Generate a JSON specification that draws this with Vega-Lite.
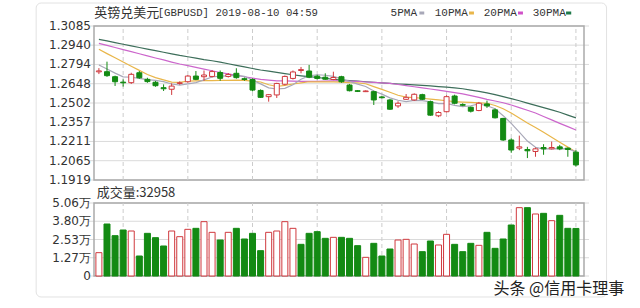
{
"$schema": "https://vega.github.io/schema/vega-lite/v6.json",
"width": 500, "height": 250,
"autosize": {"type": "none"},
"padding": {"left": 89, "top": 26, "right": 51, "bottom": 32},
"background": "white",
"config": {"view": {"stroke": null}, "font": "DejaVu Sans"},
"data": {"values": [
{"i":0,"d":"05-20","o":1.2738,"h":1.2766,"l":1.2721,"c":1.2745,"v":16170,"vup":1,"m5":1.2790,"m10":1.2909,"m20":1.2954,"m30":1.2984},
{"i":1,"d":"05-21","o":1.2739,"h":1.2815,"l":1.2700,"c":1.2709,"v":36040,"vup":0,"m5":1.2760,"m10":1.2876,"m20":1.2938,"m30":1.2972},
{"i":2,"d":"05-22","o":1.2701,"h":1.2709,"l":1.2631,"c":1.2663,"v":27960,"vup":0,"m5":1.2728,"m10":1.2844,"m20":1.2922,"m30":1.2959},
{"i":3,"d":"05-23","o":1.2660,"h":1.2681,"l":1.2626,"c":1.2655,"v":31890,"vup":0,"m5":1.2700,"m10":1.2812,"m20":1.2906,"m30":1.2947},
{"i":4,"d":"05-24","o":1.2656,"h":1.2731,"l":1.2646,"c":1.2719,"v":31190,"vup":1,"m5":1.2697,"m10":1.2780,"m20":1.2891,"m30":1.2935},
{"i":5,"d":"05-27","o":1.2731,"h":1.2744,"l":1.2685,"c":1.2693,"v":13860,"vup":0,"m5":1.2688,"m10":1.2749,"m20":1.2875,"m30":1.2922},
{"i":6,"d":"05-28","o":1.2681,"h":1.2693,"l":1.2655,"c":1.2664,"v":29570,"vup":0,"m5":1.2679,"m10":1.2718,"m20":1.2859,"m30":1.2910},
{"i":7,"d":"05-29","o":1.2659,"h":1.2668,"l":1.2625,"c":1.2633,"v":26570,"vup":0,"m5":1.2673,"m10":1.2694,"m20":1.2843,"m30":1.2898},
{"i":8,"d":"05-30","o":1.2618,"h":1.2643,"l":1.2593,"c":1.2610,"v":20800,"vup":0,"m5":1.2664,"m10":1.2677,"m20":1.2828,"m30":1.2886},
{"i":9,"d":"05-31","o":1.2606,"h":1.2651,"l":1.2563,"c":1.2630,"v":31190,"vup":1,"m5":1.2646,"m10":1.2660,"m20":1.2812,"m30":1.2874},
{"i":10,"d":"06-03","o":1.2650,"h":1.2666,"l":1.2640,"c":1.2655,"v":27260,"vup":1,"m5":1.2638,"m10":1.2658,"m20":1.2797,"m30":1.2862},
{"i":11,"d":"06-04","o":1.2663,"h":1.2714,"l":1.2655,"c":1.2706,"v":32350,"vup":1,"m5":1.2647,"m10":1.2668,"m20":1.2785,"m30":1.2852},
{"i":12,"d":"06-05","o":1.2706,"h":1.2744,"l":1.2675,"c":1.2681,"v":33040,"vup":0,"m5":1.2656,"m10":1.2670,"m20":1.2772,"m30":1.2842},
{"i":13,"d":"06-06","o":1.2701,"h":1.2748,"l":1.2670,"c":1.2714,"v":37660,"vup":1,"m5":1.2677,"m10":1.2671,"m20":1.2759,"m30":1.2831},
{"i":14,"d":"06-07","o":1.2703,"h":1.2752,"l":1.2695,"c":1.2740,"v":30270,"vup":1,"m5":1.2699,"m10":1.2672,"m20":1.2746,"m30":1.2822},
{"i":15,"d":"06-10","o":1.2733,"h":1.2748,"l":1.2670,"c":1.2689,"v":24950,"vup":0,"m5":1.2706,"m10":1.2673,"m20":1.2733,"m30":1.2811},
{"i":16,"d":"06-11","o":1.2703,"h":1.2729,"l":1.2695,"c":1.2718,"v":30270,"vup":1,"m5":1.2708,"m10":1.2674,"m20":1.2722,"m30":1.2799},
{"i":17,"d":"06-12","o":1.2727,"h":1.2765,"l":1.2686,"c":1.2694,"v":33040,"vup":0,"m5":1.2711,"m10":1.2675,"m20":1.2712,"m30":1.2787},
{"i":18,"d":"06-13","o":1.2686,"h":1.2695,"l":1.2670,"c":1.2680,"v":25650,"vup":0,"m5":1.2704,"m10":1.2674,"m20":1.2701,"m30":1.2775},
{"i":19,"d":"06-14","o":1.2680,"h":1.2688,"l":1.2590,"c":1.2600,"v":29570,"vup":0,"m5":1.2676,"m10":1.2668,"m20":1.2691,"m30":1.2763},
{"i":20,"d":"06-17","o":1.2597,"h":1.2605,"l":1.2540,"c":1.2545,"v":17560,"vup":0,"m5":1.2647,"m10":1.2661,"m20":1.2681,"m30":1.2752},
{"i":21,"d":"06-18","o":1.2550,"h":1.2570,"l":1.2512,"c":1.2565,"v":30270,"vup":1,"m5":1.2617,"m10":1.2640,"m20":1.2675,"m30":1.2743},
{"i":22,"d":"06-19","o":1.2563,"h":1.2655,"l":1.2540,"c":1.2650,"v":31190,"vup":1,"m5":1.2608,"m10":1.2627,"m20":1.2670,"m30":1.2734},
{"i":23,"d":"06-20","o":1.2644,"h":1.2710,"l":1.2635,"c":1.2703,"v":37660,"vup":1,"m5":1.2613,"m10":1.2636,"m20":1.2669,"m30":1.2725},
{"i":24,"d":"06-21","o":1.2688,"h":1.2748,"l":1.2680,"c":1.2737,"v":33040,"vup":1,"m5":1.2640,"m10":1.2646,"m20":1.2667,"m30":1.2716},
{"i":25,"d":"06-24","o":1.2748,"h":1.2775,"l":1.2727,"c":1.2755,"v":21950,"vup":0,"m5":1.2682,"m10":1.2655,"m20":1.2666,"m30":1.2708},
{"i":26,"d":"06-25","o":1.2744,"h":1.2790,"l":1.2690,"c":1.2697,"v":29570,"vup":0,"m5":1.2708,"m10":1.2663,"m20":1.2665,"m30":1.2701},
{"i":27,"d":"06-26","o":1.2705,"h":1.2716,"l":1.2680,"c":1.2688,"v":30730,"vup":0,"m5":1.2716,"m10":1.2662,"m20":1.2665,"m30":1.2695},
{"i":28,"d":"06-27","o":1.2697,"h":1.2727,"l":1.2678,"c":1.2682,"v":26110,"vup":0,"m5":1.2712,"m10":1.2662,"m20":1.2667,"m30":1.2688},
{"i":29,"d":"06-28","o":1.2680,"h":1.2739,"l":1.2675,"c":1.2695,"v":26800,"vup":1,"m5":1.2703,"m10":1.2662,"m20":1.2670,"m30":1.2682},
{"i":30,"d":"07-01","o":1.2701,"h":1.2708,"l":1.2655,"c":1.2663,"v":26800,"vup":0,"m5":1.2685,"m10":1.2660,"m20":1.2671,"m30":1.2675},
{"i":31,"d":"07-02","o":1.2638,"h":1.2646,"l":1.2590,"c":1.2595,"v":26110,"vup":0,"m5":1.2665,"m10":1.2656,"m20":1.2668,"m30":1.2671},
{"i":32,"d":"07-03","o":1.2595,"h":1.2600,"l":1.2585,"c":1.2590,"v":21030,"vup":0,"m5":1.2645,"m10":1.2654,"m20":1.2665,"m30":1.2667},
{"i":33,"d":"07-04","o":1.2588,"h":1.2598,"l":1.2585,"c":1.2593,"v":12940,"vup":1,"m5":1.2627,"m10":1.2648,"m20":1.2661,"m30":1.2663},
{"i":34,"d":"07-05","o":1.2588,"h":1.2595,"l":1.2487,"c":1.2525,"v":22640,"vup":0,"m5":1.2593,"m10":1.2626,"m20":1.2658,"m30":1.2659},
{"i":35,"d":"07-08","o":1.2548,"h":1.2555,"l":1.2535,"c":1.2542,"v":13860,"vup":0,"m5":1.2569,"m10":1.2605,"m20":1.2654,"m30":1.2654},
{"i":36,"d":"07-09","o":1.2525,"h":1.2532,"l":1.2450,"c":1.2455,"v":18710,"vup":0,"m5":1.2541,"m10":1.2583,"m20":1.2650,"m30":1.2650},
{"i":37,"d":"07-10","o":1.2480,"h":1.2515,"l":1.2465,"c":1.2500,"v":24950,"vup":1,"m5":1.2523,"m10":1.2561,"m20":1.2642,"m30":1.2646},
{"i":38,"d":"07-11","o":1.2530,"h":1.2570,"l":1.2525,"c":1.2545,"v":25410,"vup":1,"m5":1.2513,"m10":1.2546,"m20":1.2634,"m30":1.2643},
{"i":39,"d":"07-12","o":1.2525,"h":1.2575,"l":1.2518,"c":1.2568,"v":22180,"vup":1,"m5":1.2522,"m10":1.2542,"m20":1.2625,"m30":1.2639},
{"i":40,"d":"07-15","o":1.2565,"h":1.2572,"l":1.2525,"c":1.2530,"v":16870,"vup":0,"m5":1.2520,"m10":1.2538,"m20":1.2617,"m30":1.2635},
{"i":41,"d":"07-16","o":1.2512,"h":1.2520,"l":1.2405,"c":1.2410,"v":24260,"vup":0,"m5":1.2511,"m10":1.2532,"m20":1.2608,"m30":1.2631},
{"i":42,"d":"07-17","o":1.2405,"h":1.2440,"l":1.2395,"c":1.2430,"v":21490,"vup":1,"m5":1.2497,"m10":1.2526,"m20":1.2599,"m30":1.2626},
{"i":43,"d":"07-18","o":1.2436,"h":1.2560,"l":1.2430,"c":1.2550,"v":28880,"vup":1,"m5":1.2498,"m10":1.2519,"m20":1.2590,"m30":1.2622},
{"i":44,"d":"07-19","o":1.2555,"h":1.2565,"l":1.2492,"c":1.2500,"v":21950,"vup":0,"m5":1.2484,"m10":1.2512,"m20":1.2581,"m30":1.2617},
{"i":45,"d":"07-22","o":1.2490,"h":1.2500,"l":1.2478,"c":1.2485,"v":16870,"vup":0,"m5":1.2475,"m10":1.2509,"m20":1.2571,"m30":1.2610},
{"i":46,"d":"07-23","o":1.2470,"h":1.2475,"l":1.2430,"c":1.2440,"v":22640,"vup":0,"m5":1.2481,"m10":1.2506,"m20":1.2558,"m30":1.2600},
{"i":47,"d":"07-24","o":1.2445,"h":1.2510,"l":1.2440,"c":1.2500,"v":21260,"vup":1,"m5":1.2495,"m10":1.2503,"m20":1.2545,"m30":1.2590},
{"i":48,"d":"07-25","o":1.2495,"h":1.2520,"l":1.2465,"c":1.2480,"v":30270,"vup":0,"m5":1.2481,"m10":1.2500,"m20":1.2529,"m30":1.2578},
{"i":49,"d":"07-26","o":1.2450,"h":1.2460,"l":1.2385,"c":1.2390,"v":19180,"vup":0,"m5":1.2459,"m10":1.2483,"m20":1.2517,"m30":1.2565},
{"i":50,"d":"07-29","o":1.2385,"h":1.2390,"l":1.2215,"c":1.2222,"v":25650,"vup":0,"m5":1.2406,"m10":1.2458,"m20":1.2504,"m30":1.2550},
{"i":51,"d":"07-30","o":1.2222,"h":1.2235,"l":1.2125,"c":1.2146,"v":35350,"vup":0,"m5":1.2348,"m10":1.2426,"m20":1.2487,"m30":1.2535},
{"i":52,"d":"07-31","o":1.2160,"h":1.2255,"l":1.2145,"c":1.2170,"v":47370,"vup":1,"m5":1.2282,"m10":1.2389,"m20":1.2467,"m30":1.2519},
{"i":53,"d":"08-01","o":1.2150,"h":1.2170,"l":1.2085,"c":1.2140,"v":47370,"vup":0,"m5":1.2214,"m10":1.2351,"m20":1.2447,"m30":1.2501},
{"i":54,"d":"08-02","o":1.2135,"h":1.2165,"l":1.2095,"c":1.2155,"v":42980,"vup":1,"m5":1.2167,"m10":1.2317,"m20":1.2426,"m30":1.2484},
{"i":55,"d":"08-05","o":1.2165,"h":1.2190,"l":1.2110,"c":1.2155,"v":43440,"vup":0,"m5":1.2153,"m10":1.2280,"m20":1.2400,"m30":1.2467},
{"i":56,"d":"08-06","o":1.2155,"h":1.2210,"l":1.2150,"c":1.2165,"v":38350,"vup":1,"m5":1.2157,"m10":1.2242,"m20":1.2374,"m30":1.2450},
{"i":57,"d":"08-07","o":1.2170,"h":1.2185,"l":1.2145,"c":1.2155,"v":42050,"vup":0,"m5":1.2154,"m10":1.2205,"m20":1.2348,"m30":1.2432},
{"i":58,"d":"08-08","o":1.2160,"h":1.2165,"l":1.2095,"c":1.2150,"v":33040,"vup":0,"m5":1.2156,"m10":1.2168,"m20":1.2323,"m30":1.2410},
{"i":59,"d":"08-09","o":1.2130,"h":1.2145,"l":1.2020,"c":1.2033,"v":32958,"vup":0,"m5":1.2132,"m10":1.2131,"m20":1.2298,"m30":1.2389}
]},
"layer": [
{
"layer": [
{"data": {"values": [{"t": 1.1919}, {"t": 1.2065}, {"t": 1.2211}, {"t": 1.2357}, {"t": 1.2502}, {"t": 1.2648}, {"t": 1.2794}, {"t": 1.2940}, {"t": 1.3085}]},
 "mark": {"type": "rule", "stroke": "#dadada", "strokeWidth": 1},
 "encoding": {"y": {"field": "t", "type": "quantitative", "scale": {"domain": [1.1919, 1.3085], "range": [154, 0], "nice": false, "zero": false}, "axis": null}}},
{"data": {"values": [{"t": 1.1919}, {"t": 1.2065}, {"t": 1.2211}, {"t": 1.2357}, {"t": 1.2502}, {"t": 1.2648}, {"t": 1.2794}, {"t": 1.2940}, {"t": 1.3085}]},
 "mark": {"type": "text", "align": "right", "baseline": "middle", "dx": -3, "font": "DejaVu Sans", "fontSize": 12, "fill": "#333333"},
 "encoding": {
  "x": {"datum": -0.6061, "type": "quantitative", "scale": {"domain": [-0.6061, 60], "nice": false, "zero": false}, "axis": null},
  "y": {"field": "t", "type": "quantitative", "scale": {"domain": [1.1919, 1.3085], "range": [154, 0], "nice": false, "zero": false}, "axis": null},
  "text": {"field": "t", "type": "quantitative", "format": ".4f"}}},
{"data": {"values": [{}]}, "mark": {"type": "rect", "fillOpacity": 0, "stroke": "#aaaaaa", "strokeWidth": 1.5},
 "encoding": {
  "x": {"datum": -0.6061, "type": "quantitative", "scale": {"domain": [-0.6061, 60], "nice": false, "zero": false}, "axis": null},
  "x2": {"datum": 60},
  "y": {"datum": 1.1919, "type": "quantitative", "scale": {"domain": [1.1919, 1.3085], "range": [154, 0], "nice": false, "zero": false}, "axis": null},
  "y2": {"datum": 1.3085}}},
{"data": {"values": [{"i": 3}, {"i": 11}, {"i": 19}, {"i": 27}, {"i": 35}, {"i": 43}, {"i": 51}, {"i": 59}]},
 "mark": {"type": "rule", "stroke": "#cccccc", "strokeDash": [4, 3]},
 "encoding": {
  "x": {"field": "i", "type": "quantitative", "scale": {"domain": [-0.6061, 60], "nice": false, "zero": false}, "axis": null},
  "y": {"datum": 1.1919, "type": "quantitative", "scale": {"domain": [1.1919, 1.3085], "range": [154, 0], "nice": false, "zero": false}, "axis": null},
  "y2": {"datum": 1.3085}}},
{"mark": {"type": "line", "stroke": "#3d6e5a", "strokeWidth": 1.2},
 "encoding": {"x": {"field": "i", "type": "quantitative", "scale": {"domain": [-0.6061, 60], "nice": false, "zero": false}, "axis": null},
  "y": {"field": "m30", "type": "quantitative", "scale": {"domain": [1.1919, 1.3085], "range": [154, 0], "nice": false, "zero": false}, "axis": null}}},
{"mark": {"type": "line", "stroke": "#cc66cc", "strokeWidth": 1.2},
 "encoding": {"x": {"field": "i", "type": "quantitative", "scale": {"domain": [-0.6061, 60], "nice": false, "zero": false}, "axis": null},
  "y": {"field": "m20", "type": "quantitative", "scale": {"domain": [1.1919, 1.3085], "range": [154, 0], "nice": false, "zero": false}, "axis": null}}},
{"mark": {"type": "line", "stroke": "#e9b64a", "strokeWidth": 1.2},
 "encoding": {"x": {"field": "i", "type": "quantitative", "scale": {"domain": [-0.6061, 60], "nice": false, "zero": false}, "axis": null},
  "y": {"field": "m10", "type": "quantitative", "scale": {"domain": [1.1919, 1.3085], "range": [154, 0], "nice": false, "zero": false}, "axis": null}}},
{"mark": {"type": "line", "stroke": "#a8a8b8", "strokeWidth": 1.2},
 "encoding": {"x": {"field": "i", "type": "quantitative", "scale": {"domain": [-0.6061, 60], "nice": false, "zero": false}, "axis": null},
  "y": {"field": "m5", "type": "quantitative", "scale": {"domain": [1.1919, 1.3085], "range": [154, 0], "nice": false, "zero": false}, "axis": null}}},
{"mark": {"type": "rule", "strokeWidth": 1},
 "encoding": {"x": {"field": "i", "type": "quantitative", "scale": {"domain": [-0.6061, 60], "nice": false, "zero": false}, "axis": null},
  "y": {"field": "l", "type": "quantitative", "scale": {"domain": [1.1919, 1.3085], "range": [154, 0], "nice": false, "zero": false}, "axis": null},
  "y2": {"field": "h"},
  "color": {"condition": {"test": "datum.c >= datum.o", "value": "#d0393e"}, "value": "#138a13"}}},
{"transform": [{"filter": "datum.c >= datum.o"}],
 "mark": {"type": "bar", "size": 5, "fill": "white", "stroke": "#d0393e", "strokeWidth": 1},
 "encoding": {"x": {"field": "i", "type": "quantitative", "scale": {"domain": [-0.6061, 60], "nice": false, "zero": false}, "axis": null},
  "y": {"field": "o", "type": "quantitative", "scale": {"domain": [1.1919, 1.3085], "range": [154, 0], "nice": false, "zero": false}, "axis": null},
  "y2": {"field": "c"}}},
{"transform": [{"filter": "datum.c < datum.o"}],
 "mark": {"type": "bar", "size": 5, "fill": "#138a13", "stroke": "#138a13", "strokeWidth": 1},
 "encoding": {"x": {"field": "i", "type": "quantitative", "scale": {"domain": [-0.6061, 60], "nice": false, "zero": false}, "axis": null},
  "y": {"field": "o", "type": "quantitative", "scale": {"domain": [1.1919, 1.3085], "range": [154, 0], "nice": false, "zero": false}, "axis": null},
  "y2": {"field": "c"}}},
{"data": {"values": [{}]}, "mark": {"type": "text", "text": "英镑兑美元", "align": "left", "baseline": "middle", "font": "Noto Sans CJK SC", "fontSize": 13, "fill": "#333333"},
 "encoding": {"x": {"datum": -0.57, "type": "quantitative", "scale": {"domain": [-0.6061, 60], "nice": false, "zero": false}, "axis": null},
  "y": {"datum": 1.31834, "type": "quantitative", "scale": {"domain": [1.1919, 1.3085], "range": [154, 0], "nice": false, "zero": false}, "axis": null}}},
{"data": {"values": [{}]}, "mark": {"type": "text", "text": "[GBPUSD] 2019-08-10 04:59", "align": "left", "baseline": "middle", "font": "Liberation Mono", "fontSize": 10.7, "fill": "#333333"},
 "encoding": {"x": {"datum": 7.27, "type": "quantitative", "scale": {"domain": [-0.6061, 60], "nice": false, "zero": false}, "axis": null},
  "y": {"datum": 1.31834, "type": "quantitative", "scale": {"domain": [1.1919, 1.3085], "range": [154, 0], "nice": false, "zero": false}, "axis": null}}},
{"data": {"values": [{}]}, "mark": {"type": "text", "text": "5PMA", "align": "left", "baseline": "middle", "font": "Liberation Mono", "fontSize": 11, "fill": "#333333"},
 "encoding": {"x": {"datum": 36.08, "type": "quantitative", "scale": {"domain": [-0.6061, 60], "nice": false, "zero": false}, "axis": null},
  "y": {"datum": 1.31834, "type": "quantitative", "scale": {"domain": [1.1919, 1.3085], "range": [154, 0], "nice": false, "zero": false}, "axis": null}}},
{"data": {"values": [{}]}, "mark": {"type": "text", "text": "10PMA", "align": "left", "baseline": "middle", "font": "Liberation Mono", "fontSize": 11, "fill": "#333333"},
 "encoding": {"x": {"datum": 41.54, "type": "quantitative", "scale": {"domain": [-0.6061, 60], "nice": false, "zero": false}, "axis": null},
  "y": {"datum": 1.31834, "type": "quantitative", "scale": {"domain": [1.1919, 1.3085], "range": [154, 0], "nice": false, "zero": false}, "axis": null}}},
{"data": {"values": [{}]}, "mark": {"type": "text", "text": "20PMA", "align": "left", "baseline": "middle", "font": "Liberation Mono", "fontSize": 11, "fill": "#333333"},
 "encoding": {"x": {"datum": 47.6, "type": "quantitative", "scale": {"domain": [-0.6061, 60], "nice": false, "zero": false}, "axis": null},
  "y": {"datum": 1.31834, "type": "quantitative", "scale": {"domain": [1.1919, 1.3085], "range": [154, 0], "nice": false, "zero": false}, "axis": null}}},
{"data": {"values": [{}]}, "mark": {"type": "text", "text": "30PMA", "align": "left", "baseline": "middle", "font": "Liberation Mono", "fontSize": 11, "fill": "#333333"},
 "encoding": {"x": {"datum": 53.66, "type": "quantitative", "scale": {"domain": [-0.6061, 60], "nice": false, "zero": false}, "axis": null},
  "y": {"datum": 1.31834, "type": "quantitative", "scale": {"domain": [1.1919, 1.3085], "range": [154, 0], "nice": false, "zero": false}, "axis": null}}},
{"data": {"values": [{}]}, "mark": {"type": "rule", "stroke": "#a8a8b8", "strokeWidth": 3},
 "encoding": {"x": {"datum": 39.64, "type": "quantitative", "scale": {"domain": [-0.6061, 60], "nice": false, "zero": false}, "axis": null}, "x2": {"datum": 40.24},
  "y": {"datum": 1.31834, "type": "quantitative", "scale": {"domain": [1.1919, 1.3085], "range": [154, 0], "nice": false, "zero": false}, "axis": null}}},
{"data": {"values": [{}]}, "mark": {"type": "rule", "stroke": "#e9b64a", "strokeWidth": 3},
 "encoding": {"x": {"datum": 45.78, "type": "quantitative", "scale": {"domain": [-0.6061, 60], "nice": false, "zero": false}, "axis": null}, "x2": {"datum": 46.39},
  "y": {"datum": 1.31834, "type": "quantitative", "scale": {"domain": [1.1919, 1.3085], "range": [154, 0], "nice": false, "zero": false}, "axis": null}}},
{"data": {"values": [{}]}, "mark": {"type": "rule", "stroke": "#d050c8", "strokeWidth": 3},
 "encoding": {"x": {"datum": 51.84, "type": "quantitative", "scale": {"domain": [-0.6061, 60], "nice": false, "zero": false}, "axis": null}, "x2": {"datum": 52.45},
  "y": {"datum": 1.31834, "type": "quantitative", "scale": {"domain": [1.1919, 1.3085], "range": [154, 0], "nice": false, "zero": false}, "axis": null}}},
{"data": {"values": [{}]}, "mark": {"type": "rule", "stroke": "#1f7a4a", "strokeWidth": 3},
 "encoding": {"x": {"datum": 57.78, "type": "quantitative", "scale": {"domain": [-0.6061, 60], "nice": false, "zero": false}, "axis": null}, "x2": {"datum": 58.42},
  "y": {"datum": 1.31834, "type": "quantitative", "scale": {"domain": [1.1919, 1.3085], "range": [154, 0], "nice": false, "zero": false}, "axis": null}}}
]
},
{
"layer": [
{"data": {"values": [{"t": 0, "lab": "0"}, {"t": 12650, "lab": "1.27万"}, {"t": 25300, "lab": "2.53万"}, {"t": 37950, "lab": "3.80万"}, {"t": 50600, "lab": "5.06万"}]},
 "mark": {"type": "rule", "stroke": "#dadada", "strokeWidth": 1},
 "encoding": {"y": {"field": "t", "type": "quantitative", "scale": {"domain": [0, 50600], "range": [250, 177], "nice": false, "zero": false}, "axis": null}}},
{"data": {"values": [{"t": 0, "lab": "0"}, {"t": 12650, "lab": "1.27万"}, {"t": 25300, "lab": "2.53万"}, {"t": 37950, "lab": "3.80万"}, {"t": 50600, "lab": "5.06万"}]},
 "mark": {"type": "text", "align": "right", "baseline": "middle", "dx": -3, "font": "DejaVu Sans", "fontSize": 12, "fill": "#333333"},
 "encoding": {
  "x": {"datum": -0.6061, "type": "quantitative", "scale": {"domain": [-0.6061, 60], "nice": false, "zero": false}, "axis": null},
  "y": {"field": "t", "type": "quantitative", "scale": {"domain": [0, 50600], "range": [250, 177], "nice": false, "zero": false}, "axis": null},
  "text": {"field": "lab", "type": "nominal"}}},
{"data": {"values": [{}]}, "mark": {"type": "rect", "fillOpacity": 0, "stroke": "#e2e2e2", "strokeWidth": 1, "cornerRadius": 5},
 "encoding": {
  "x": {"datum": -7.76, "type": "quantitative", "scale": {"domain": [-0.6061, 60], "nice": false, "zero": false}, "axis": null},
  "x2": {"datum": 62.79},
  "y": {"datum": -14556, "type": "quantitative", "scale": {"domain": [0, 50600], "range": [250, 177], "nice": false, "zero": false}, "axis": null},
  "y2": {"datum": 189230}}},
{"data": {"values": [{}]}, "mark": {"type": "rect", "fillOpacity": 0, "stroke": "#aaaaaa", "strokeWidth": 1.5},
 "encoding": {
  "x": {"datum": -0.6061, "type": "quantitative", "scale": {"domain": [-0.6061, 60], "nice": false, "zero": false}, "axis": null},
  "x2": {"datum": 60},
  "y": {"datum": 0, "type": "quantitative", "scale": {"domain": [0, 50600], "range": [250, 177], "nice": false, "zero": false}, "axis": null},
  "y2": {"datum": 50600}}},
{"data": {"values": [{"i": 3}, {"i": 11}, {"i": 19}, {"i": 27}, {"i": 35}, {"i": 43}, {"i": 51}, {"i": 59}]},
 "mark": {"type": "rule", "stroke": "#cccccc", "strokeDash": [4, 3]},
 "encoding": {
  "x": {"field": "i", "type": "quantitative", "scale": {"domain": [-0.6061, 60], "nice": false, "zero": false}, "axis": null},
  "y": {"datum": 0, "type": "quantitative", "scale": {"domain": [0, 50600], "range": [250, 177], "nice": false, "zero": false}, "axis": null},
  "y2": {"datum": 50600}}},
{"transform": [{"filter": "datum.vup == 1"}],
 "mark": {"type": "bar", "size": 6, "fill": "white", "stroke": "#d0393e", "strokeWidth": 1},
 "encoding": {"x": {"field": "i", "type": "quantitative", "scale": {"domain": [-0.6061, 60], "nice": false, "zero": false}, "axis": null},
  "y": {"field": "v", "type": "quantitative", "scale": {"domain": [0, 50600], "range": [250, 177], "nice": false, "zero": false}, "axis": null},
  "y2": {"datum": 0}}},
{"transform": [{"filter": "datum.vup == 0"}],
 "mark": {"type": "bar", "size": 6, "fill": "#138a13", "stroke": "#138a13", "strokeWidth": 1},
 "encoding": {"x": {"field": "i", "type": "quantitative", "scale": {"domain": [-0.6061, 60], "nice": false, "zero": false},
   "axis": {"orient": "bottom", "values": [3, 11, 19, 27, 35, 43], "labelExpr": "['05-23','06-04','06-14','06-26','07-08','07-18'][(datum.value - 3) / 8]", "grid": false, "domain": false, "ticks": false, "tickSize": 0, "labelPadding": 6, "labelFont": "Liberation Mono", "labelFontSize": 11, "labelColor": "#c8464b", "labelOverlap": false, "labelBound": false, "labelFlush": false, "title": null}},
  "y": {"field": "v", "type": "quantitative", "scale": {"domain": [0, 50600], "range": [250, 177], "nice": false, "zero": false}, "axis": null},
  "y2": {"datum": 0}}},
{"data": {"values": [{}]}, "mark": {"type": "text", "text": "成交量:32958", "align": "left", "baseline": "middle", "font": "Noto Sans CJK SC", "fontSize": 13, "fill": "#333333"},
 "encoding": {"x": {"datum": -0.28, "type": "quantitative", "scale": {"domain": [-0.6061, 60], "nice": false, "zero": false}, "axis": null},
  "y": {"datum": 57320, "type": "quantitative", "scale": {"domain": [0, 50600], "range": [250, 177], "nice": false, "zero": false}, "axis": null}}},
{"data": {"values": [{}]}, "mark": {"type": "text", "text": "头条 @信用卡理事", "align": "left", "baseline": "middle", "font": "Noto Sans CJK SC", "fontSize": 16, "fill": "#222222"},
 "encoding": {"x": {"datum": 48.81, "type": "quantitative", "scale": {"domain": [-0.6061, 60], "nice": false, "zero": false}, "axis": null},
  "y": {"datum": -9011, "type": "quantitative", "scale": {"domain": [0, 50600], "range": [250, 177], "nice": false, "zero": false}, "axis": null}}}
]
}
],
"resolve": {"scale": {"y": "independent"}}
}
